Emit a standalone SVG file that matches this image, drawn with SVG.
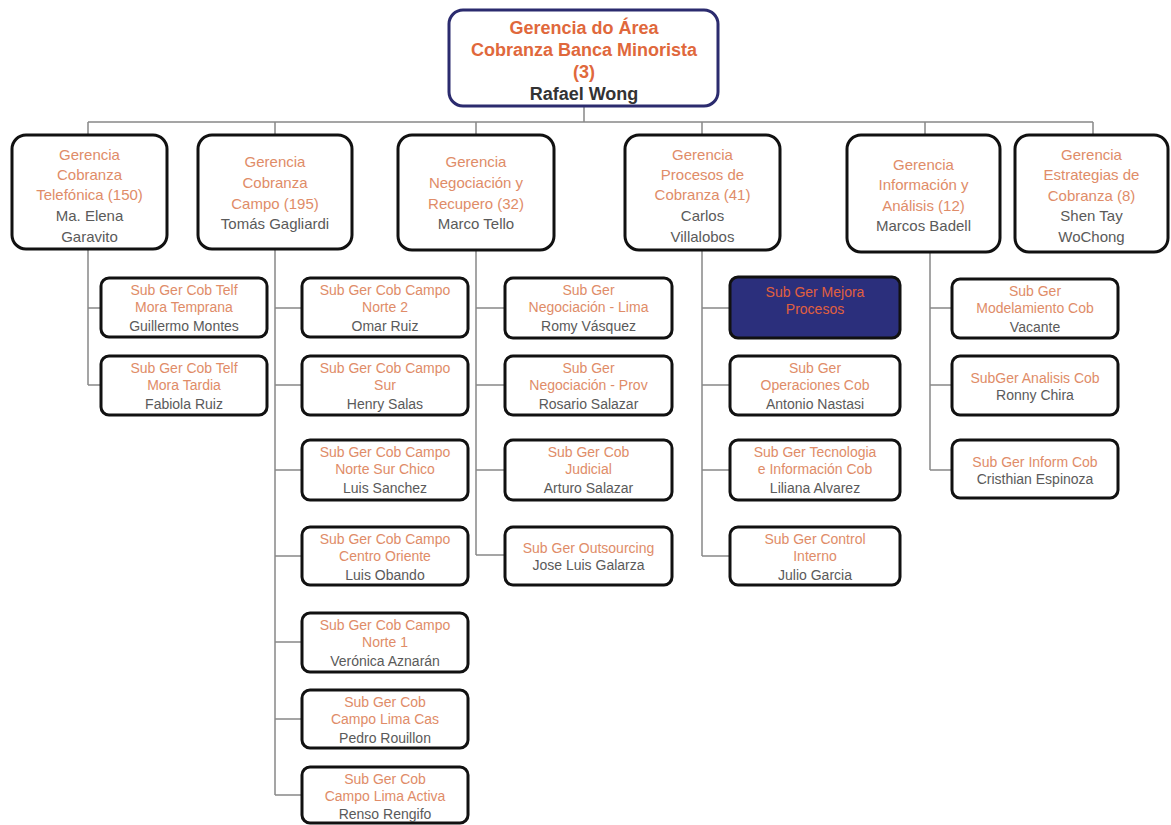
<svg xmlns="http://www.w3.org/2000/svg" width="1171" height="825" viewBox="0 0 1171 825">
<style>
.bg{fill:#ffffff}
.top{fill:#fff;stroke:#2b2b6e;stroke-width:3}
.l2{fill:#fff;stroke:#111;stroke-width:3}
.sb{fill:#fff;stroke:#111;stroke-width:3}
.dark{fill:#2b2f7c;stroke:#111;stroke-width:3}
.conn{stroke:#888;stroke-width:1.5;fill:none}
text{font-family:"Liberation Sans",Arial,sans-serif;text-anchor:middle}
.tt{font-size:18px;font-weight:bold;fill:#e0683c}
.tn{font-size:18px;font-weight:bold;fill:#333}
.t2{font-size:15px;fill:#e08c68}
.n2{font-size:15px;fill:#5a5a5a}
.t3{font-size:14px;fill:#e08c68}
.n3{font-size:14px;fill:#5a5a5a}
.td{font-size:14px;fill:#e0603e}
</style>
<rect class="bg" x="0" y="0" width="1171" height="825"/>
<g id="connectors">
<path class="conn" d="M584 106V122M88 122H1093M88 122V135M275 122V135M476 122V135M702 122V135M925 122V135M1093 122V135"/>
<path class="conn" d="M88 249V385M88 308H101M88 385H101"/>
<path class="conn" d="M275 249V795M275 308H302M275 385H302M275 470H302M275 556H302M275 642H302M275 719H302M275 795H302"/>
<path class="conn" d="M476 250V555M476 308H505M476 385H505M476 470H505M476 555H505"/>
<path class="conn" d="M702 250V556M702 308H730M702 385H730M702 470H730M702 556H730"/>
<path class="conn" d="M930 252V470M930 308H952M930 385H952M930 470H952"/>
</g>
<g id="root">
<rect class="top" x="449" y="10" width="269" height="96" rx="14"/>
<text class="tt" x="584" y="34">Gerencia do Área</text>
<text class="tt" x="584" y="56">Cobranza Banca Minorista</text>
<text class="tt" x="584" y="78">(3)</text>
<text class="tn" x="584" y="100">Rafael Wong</text>
</g>
<g id="g-telefonica">
<rect class="l2" x="12" y="135" width="155" height="114" rx="14"/>
<text class="t2" x="89.5" y="160">Gerencia</text>
<text class="t2" x="89.5" y="180">Cobranza</text>
<text class="t2" x="89.5" y="200">Telefónica (150)</text>
<text class="n2" x="89.5" y="221">Ma. Elena</text>
<text class="n2" x="89.5" y="242">Garavito</text>
</g>
<g id="g-campo">
<rect class="l2" x="198" y="135" width="154" height="114" rx="14"/>
<text class="t2" x="275" y="167">Gerencia</text>
<text class="t2" x="275" y="188">Cobranza</text>
<text class="t2" x="275" y="209">Campo (195)</text>
<text class="n2" x="275" y="229">Tomás Gagliardi</text>
</g>
<g id="g-negociacion">
<rect class="l2" x="398" y="135" width="156" height="115" rx="14"/>
<text class="t2" x="476" y="167">Gerencia</text>
<text class="t2" x="476" y="188">Negociación y</text>
<text class="t2" x="476" y="209">Recupero (32)</text>
<text class="n2" x="476" y="229">Marco Tello</text>
</g>
<g id="g-procesos">
<rect class="l2" x="625" y="135" width="155" height="115" rx="14"/>
<text class="t2" x="702.5" y="160">Gerencia</text>
<text class="t2" x="702.5" y="180">Procesos de</text>
<text class="t2" x="702.5" y="200">Cobranza (41)</text>
<text class="n2" x="702.5" y="221">Carlos</text>
<text class="n2" x="702.5" y="242">Villalobos</text>
</g>
<g id="g-informacion">
<rect class="l2" x="847" y="135" width="153" height="117" rx="14"/>
<text class="t2" x="923.5" y="170">Gerencia</text>
<text class="t2" x="923.5" y="190">Información y</text>
<text class="t2" x="923.5" y="211">Análisis (12)</text>
<text class="n2" x="923.5" y="231">Marcos Badell</text>
</g>
<g id="g-estrategias">
<rect class="l2" x="1015" y="135" width="153" height="117" rx="14"/>
<text class="t2" x="1091.5" y="160">Gerencia</text>
<text class="t2" x="1091.5" y="180">Estrategias de</text>
<text class="t2" x="1091.5" y="201">Cobranza (8)</text>
<text class="n2" x="1091.5" y="221">Shen Tay</text>
<text class="n2" x="1091.5" y="242">WoChong</text>
</g>
<g id="s-telf-temprana">
<rect class="sb" x="101" y="278" width="166" height="59" rx="8"/>
<text class="t3" x="184" y="295">Sub Ger Cob Telf</text>
<text class="t3" x="184" y="312">Mora Temprana</text>
<text class="n3" x="184" y="331">Guillermo Montes</text>
</g>
<g id="s-telf-tardia">
<rect class="sb" x="101" y="356" width="166" height="59" rx="8"/>
<text class="t3" x="184" y="373">Sub Ger Cob Telf</text>
<text class="t3" x="184" y="390">Mora Tardia</text>
<text class="n3" x="184" y="409">Fabiola Ruiz</text>
</g>
<g id="s-campo-norte2">
<rect class="sb" x="302" y="278" width="166" height="59" rx="8"/>
<text class="t3" x="385" y="295">Sub Ger Cob Campo</text>
<text class="t3" x="385" y="312">Norte 2</text>
<text class="n3" x="385" y="331">Omar Ruiz</text>
</g>
<g id="s-campo-sur">
<rect class="sb" x="302" y="356" width="166" height="59" rx="8"/>
<text class="t3" x="385" y="373">Sub Ger Cob Campo</text>
<text class="t3" x="385" y="390">Sur</text>
<text class="n3" x="385" y="409">Henry Salas</text>
</g>
<g id="s-campo-nsc">
<rect class="sb" x="302" y="440" width="166" height="60" rx="8"/>
<text class="t3" x="385" y="457">Sub Ger Cob Campo</text>
<text class="t3" x="385" y="474">Norte Sur Chico</text>
<text class="n3" x="385" y="493">Luis Sanchez</text>
</g>
<g id="s-campo-co">
<rect class="sb" x="302" y="527" width="166" height="58" rx="8"/>
<text class="t3" x="385" y="544">Sub Ger Cob Campo</text>
<text class="t3" x="385" y="561">Centro Oriente</text>
<text class="n3" x="385" y="580">Luis Obando</text>
</g>
<g id="s-campo-norte1">
<rect class="sb" x="302" y="613" width="166" height="59" rx="8"/>
<text class="t3" x="385" y="630">Sub Ger Cob Campo</text>
<text class="t3" x="385" y="647">Norte 1</text>
<text class="n3" x="385" y="666">Verónica Aznarán</text>
</g>
<g id="s-campo-limacas">
<rect class="sb" x="302" y="690" width="166" height="58" rx="8"/>
<text class="t3" x="385" y="707">Sub Ger Cob</text>
<text class="t3" x="385" y="724">Campo Lima Cas</text>
<text class="n3" x="385" y="743">Pedro Rouillon</text>
</g>
<g id="s-campo-limaactiva">
<rect class="sb" x="302" y="767" width="166" height="56" rx="8"/>
<text class="t3" x="385" y="784">Sub Ger Cob</text>
<text class="t3" x="385" y="801">Campo Lima Activa</text>
<text class="n3" x="385" y="819">Renso Rengifo</text>
</g>
<g id="s-neg-lima">
<rect class="sb" x="505" y="278" width="167" height="60" rx="8"/>
<text class="t3" x="588.5" y="295">Sub Ger</text>
<text class="t3" x="588.5" y="312">Negociación - Lima</text>
<text class="n3" x="588.5" y="331">Romy Vásquez</text>
</g>
<g id="s-neg-prov">
<rect class="sb" x="505" y="356" width="167" height="59" rx="8"/>
<text class="t3" x="588.5" y="373">Sub Ger</text>
<text class="t3" x="588.5" y="390">Negociación - Prov</text>
<text class="n3" x="588.5" y="409">Rosario Salazar</text>
</g>
<g id="s-neg-judicial">
<rect class="sb" x="505" y="440" width="167" height="60" rx="8"/>
<text class="t3" x="588.5" y="457">Sub Ger Cob</text>
<text class="t3" x="588.5" y="474">Judicial</text>
<text class="n3" x="588.5" y="493">Arturo Salazar</text>
</g>
<g id="s-neg-outsourcing">
<rect class="sb" x="505" y="527" width="167" height="58" rx="8"/>
<text class="t3" x="588.5" y="553">Sub Ger Outsourcing</text>
<text class="n3" x="588.5" y="570">Jose Luis Galarza</text>
</g>
<g id="s-proc-mejora">
<rect class="dark" x="730" y="277" width="170" height="61" rx="8"/>
<text class="td" x="815" y="297">Sub Ger Mejora</text>
<text class="td" x="815" y="314">Procesos</text>
</g>
<g id="s-proc-operaciones">
<rect class="sb" x="730" y="356" width="170" height="59" rx="8"/>
<text class="t3" x="815" y="373">Sub Ger</text>
<text class="t3" x="815" y="390">Operaciones Cob</text>
<text class="n3" x="815" y="409">Antonio Nastasi</text>
</g>
<g id="s-proc-tecnologia">
<rect class="sb" x="730" y="440" width="170" height="60" rx="8"/>
<text class="t3" x="815" y="457">Sub Ger Tecnologia</text>
<text class="t3" x="815" y="474">e Información Cob</text>
<text class="n3" x="815" y="493">Liliana Alvarez</text>
</g>
<g id="s-proc-control">
<rect class="sb" x="730" y="527" width="170" height="58" rx="8"/>
<text class="t3" x="815" y="544">Sub Ger Control</text>
<text class="t3" x="815" y="561">Interno</text>
<text class="n3" x="815" y="580">Julio Garcia</text>
</g>
<g id="s-inf-modelamiento">
<rect class="sb" x="952" y="279" width="166" height="59" rx="8"/>
<text class="t3" x="1035" y="296">Sub Ger</text>
<text class="t3" x="1035" y="313">Modelamiento Cob</text>
<text class="n3" x="1035" y="332">Vacante</text>
</g>
<g id="s-inf-analisis">
<rect class="sb" x="952" y="356" width="166" height="59" rx="8"/>
<text class="t3" x="1035" y="383">SubGer Analisis Cob</text>
<text class="n3" x="1035" y="400">Ronny Chira</text>
</g>
<g id="s-inf-inform">
<rect class="sb" x="952" y="440" width="166" height="58" rx="8"/>
<text class="t3" x="1035" y="467">Sub Ger Inform Cob</text>
<text class="n3" x="1035" y="484">Cristhian Espinoza</text>
</g>
</svg>
